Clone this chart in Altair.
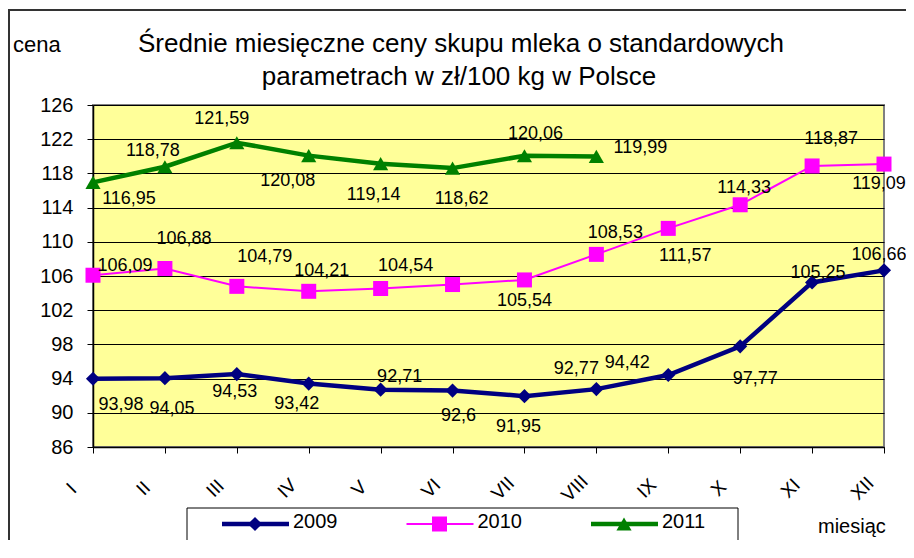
import altair as alt
import pandas as pd

# ---- data ----
months = ["I", "II", "III", "IV", "V", "VI", "VII", "VIII", "IX", "X", "XI", "XII"]
years = ["2009", "2010", "2011"]
v2009 = [93.98, 94.05, 94.53, 93.42, 92.71, 92.6, 91.95, 92.77, 94.42, 97.77, 105.25, 106.66]
v2010 = [106.09, 106.88, 104.79, 104.21, 104.54, 105.0, 105.54, 108.53, 111.57, 114.33, 118.87, 119.09]
v2011 = [116.95, 118.78, 121.59, 120.08, 119.14, 118.62, 120.06, 119.99]
y_ticks = [86, 90, 94, 98, 102, 106, 110, 114, 118, 122, 126]

title_lines = ["Średnie miesięczne ceny skupu mleka o standardowych",
               "parametrach w zł/100 kg w Polsce"]
y_title = "cena"
x_title = "miesiąc"

# ---- styles (kept apart from the values) ----
colors = ["#000080", "#FF00FF", "#008000"]
shapes = ["diamond", "square", "triangle-up"]
line_widths = [4.5, 2, 4.5]
point_sizes = [200, 225, 230]
# data-label offsets (pixels, relative to the point); None = label not shown
off2009 = [(28, 26), (7, 31), (-2, 18), (-12, 20), (19, -13), (6, 25), (-6, 31),
           (-20, -20), (-41, -12), (15, 33), (6, -9), (-5, -15)]
off2010 = [(32, -9), (19, -29), (28, -29), (13, -20), (25, -22), None, (0, 21),
           (19, -21), (17, 28), (4, -17), (19, -27), (-5, 20)]
off2011 = [(36, 17), (-12, -16), (-15, -24), (-21, 25), (-7, 31), (9, 31), (11, -22), (44, -8)]

FONT = "Liberation Sans"
W, H = 791, 342

rows = []
for yr, vals, offs in zip(years, [v2009, v2010, v2011], [off2009, off2010, off2011]):
    for m, v, o in zip(months, vals, offs):
        rows.append({"month": m, "year": yr, "value": v,
                     "label": f"{v:g}".replace(".", ","), "off": o})
df = pd.DataFrame(rows)
df_plot = df.drop(columns=["off"])

x_scale = alt.Scale(type="point", domain=months, padding=0)
y_scale = alt.Scale(domain=[86, 126], nice=False, zero=False)

x_axis = alt.Axis(labelAngle=-45, labelAlign="center", labelBaseline="middle",
                  labelOffset=-22, labelPadding=35, labelFontSize=19, labelOverlap=False,
                  labelColor="black", tickColor="black", tickSize=6,
                  domainColor="black", domainWidth=1.5, grid=False)
y_axis = alt.Axis(values=y_ticks, labelFontSize=20, labelColor="black", labelOverlap=False,
                  labelPadding=14, tickColor="black", tickSize=6,
                  domainColor="black", domainWidth=1.5,
                  grid=True, gridColor="black", gridWidth=1)
x_enc = alt.X("month:N", sort=months, scale=x_scale, title=None, axis=x_axis)
y_enc = alt.Y("value:Q", scale=y_scale, title=None, axis=y_axis)

color = alt.Color("year:N", scale=alt.Scale(type="ordinal", domain=years, range=colors), legend=None)
shape = alt.Shape("year:N", scale=alt.Scale(type="ordinal", domain=years, range=shapes), legend=None)
size = alt.Size("year:N", scale=alt.Scale(type="ordinal", domain=years, range=point_sizes), legend=None)
swidth = alt.StrokeWidth("year:N", scale=alt.Scale(type="ordinal", domain=years, range=line_widths),
                         legend=None)

one = pd.DataFrame({"k": [0]})

frame = alt.Chart(one).mark_rect(fillOpacity=0, stroke="#333333", strokeWidth=2).encode(
    x=alt.value(-84), x2=alt.value(900), y=alt.value(-95), y2=alt.value(600))

lines = alt.Chart(df_plot).mark_line().encode(
    x=x_enc, y=y_enc, color=color, strokeWidth=swidth, detail="year:N")
points = alt.Chart(df_plot).mark_point(filled=True, opacity=1).encode(
    x=x_enc, y=y_enc, color=color, shape=shape, size=size)

label_layers = []
for r in rows:
    if r["off"] is None:
        continue
    d = pd.DataFrame([{"month": r["month"], "value": r["value"], "label": r["label"]}])
    label_layers.append(
        alt.Chart(d).mark_text(dx=r["off"][0], dy=r["off"][1], fontSize=18, color="black",
                               align="center", baseline="middle").encode(
            x=x_enc, y=y_enc, text="label:N"))

title1 = alt.Chart(pd.DataFrame({"t": [title_lines[0]]})).mark_text(
    fontSize=26, align="center", baseline="alphabetic", color="black").encode(
    x=alt.value(368), y=alt.value(-53), text="t:N")
title2 = alt.Chart(pd.DataFrame({"t": [title_lines[1]]})).mark_text(
    fontSize=26, align="center", baseline="alphabetic", color="black").encode(
    x=alt.value(366), y=alt.value(-20), text="t:N")
ytitle = alt.Chart(pd.DataFrame({"t": [y_title]})).mark_text(
    fontSize=22, align="left", baseline="alphabetic", color="black").encode(
    x=alt.value(-80), y=alt.value(-53), text="t:N")
xtitle = alt.Chart(pd.DataFrame({"t": [x_title]})).mark_text(
    fontSize=20, align="left", baseline="alphabetic", color="black").encode(
    x=alt.value(725), y=alt.value(428), text="t:N")

# legend
legend_box = alt.Chart(one).mark_rect(fill="white", stroke="black", strokeWidth=1).encode(
    x=alt.value(94), x2=alt.value(645), y=alt.value(403), y2=alt.value(438))
legend_layers = [legend_box]
LY = 419
for i, yr in enumerate(years):
    x0 = 129 + i * 184.5
    d = pd.DataFrame({"year": [yr]})
    legend_layers.append(alt.Chart(d).mark_rule(color=colors[i], strokeWidth=line_widths[i]).encode(
        x=alt.value(x0), x2=alt.value(x0 + 67), y=alt.value(LY)))
    legend_layers.append(alt.Chart(d).mark_point(filled=True, opacity=1, shape=shapes[i],
                                                 size=point_sizes[i], color=colors[i]).encode(
        x=alt.value(x0 + 33), y=alt.value(LY)))
    legend_layers.append(alt.Chart(d).mark_text(fontSize=20, align="left", baseline="middle",
                                                color="black").encode(
        x=alt.value(x0 + 71), y=alt.value(LY - 2), text="year:N"))

chart = alt.layer(frame, lines, points, *label_layers, title1, title2, ytitle, xtitle,
                  *legend_layers).properties(
    width=W, height=H,
    padding={"left": 85, "top": 97, "right": 22, "bottom": 93},
    autosize=alt.AutoSizeParams(type="none"),
    background="white",
).configure(font=FONT).configure_view(
    fill="#FFFF99", stroke="#808080", strokeWidth=2)

chart.save("out.html", embed_options={"renderer": "svg", "actions": False})
